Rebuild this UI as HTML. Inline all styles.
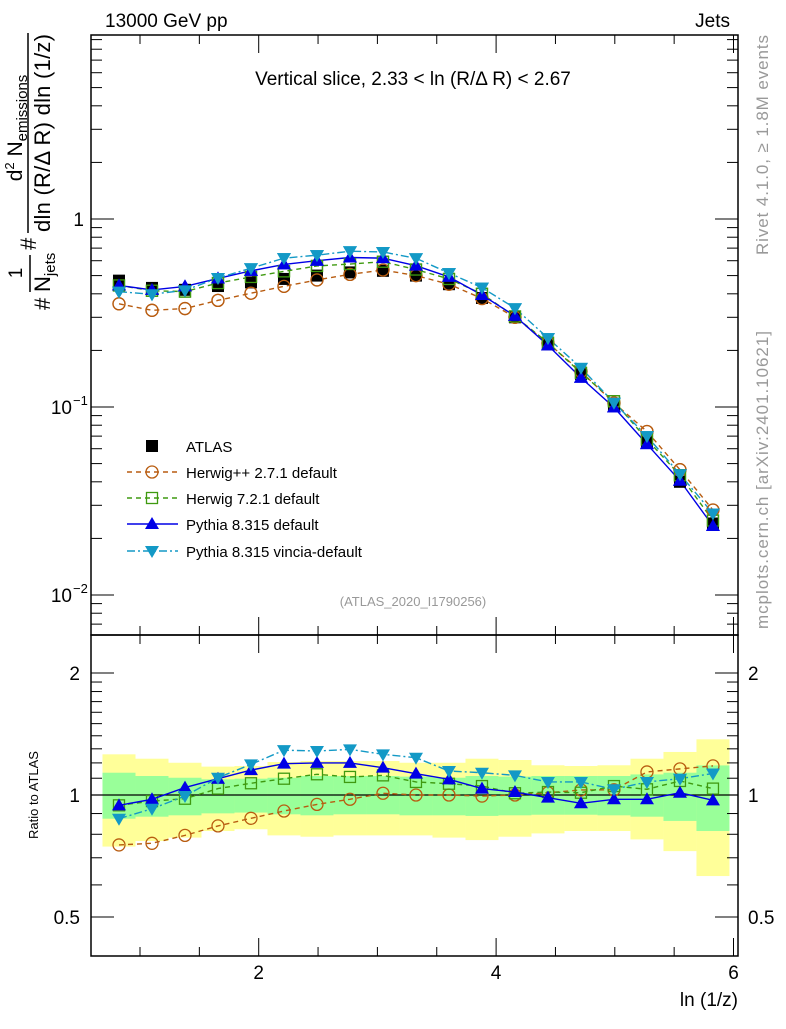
<!DOCTYPE html>
<html><head><meta charset="utf-8"><style>
html,body{margin:0;padding:0;background:#fff;}
svg text{font-family:"Liberation Sans",sans-serif;}
</style></head><body>
<svg id="c" width="786" height="1024" xmlns="http://www.w3.org/2000/svg">
<g id="bands"></g>
<g id="axes"></g>
<g id="series"></g>
<text x="105" y="27" font-size="19">13000 GeV pp</text>
<text x="730" y="27" font-size="19" text-anchor="end">Jets</text>
<text x="413" y="85" font-size="19" text-anchor="middle">Vertical slice, 2.33 &lt; ln (R/Δ R) &lt; 2.67</text>
<text x="413" y="606" font-size="13" fill="#999" text-anchor="middle">(ATLAS_2020_I1790256)</text>
<text transform="translate(768,145) rotate(-90)" font-size="17" fill="#999" text-anchor="middle" textLength="220">Rivet 4.1.0, ≥ 1.8M events</text>
<text transform="translate(768,480) rotate(-90)" font-size="17" fill="#999" text-anchor="middle" textLength="298">mcplots.cern.ch [arXiv:2401.10621]</text>
<g transform="translate(38,160) rotate(-90)">
<text x="-150" y="12" font-size="22">#</text>
<text x="-113" y="-16" font-size="19" text-anchor="middle">1</text>
<line x1="-132" y1="-8" x2="-95" y2="-8" stroke="#000" stroke-width="1.5"/>
<text x="-132" y="12" font-size="22">N<tspan font-size="15" dy="5">jets</tspan></text>
<text x="-90" y="-2" font-size="22">#</text>
<text x="32" y="-16" font-size="21" text-anchor="middle">d<tspan font-size="13" dy="-8">2</tspan><tspan dy="8"> N</tspan><tspan font-size="15" dy="5">emissions</tspan></text>
<line x1="-73" y1="-10" x2="127" y2="-10" stroke="#000" stroke-width="1.5"/>
<text x="27" y="12" font-size="22" text-anchor="middle" textLength="198">dln (R/Δ R) dln (1/z)</text>
</g>
<text transform="translate(38,795) rotate(-90)" font-size="13" text-anchor="middle">Ratio to ATLAS</text>
<text x="738" y="1006" font-size="19" text-anchor="end">ln (1/z)</text>
<g id="legend"></g>
</svg>
<script>
const xCenters=[0.823,1.101,1.379,1.657,1.935,2.213,2.491,2.769,3.047,3.325,3.603,3.881,4.159,4.437,4.715,4.993,5.271,5.549,5.827];
const atlas=[0.47,0.43,0.42,0.44,0.46,0.48,0.50,0.52,0.53,0.50,0.45,0.38,0.30,0.216,0.150,0.102,0.065,0.040,0.024];
const ratioHerwigpp=[0.753,0.76,0.795,0.839,0.876,0.913,0.948,0.976,1.01,1.0,1.0,0.994,1.0,1.013,1.029,1.03,1.14,1.16,1.18];
const ratioHerwig7=[0.943,0.966,0.979,1.037,1.069,1.097,1.125,1.108,1.118,1.077,1.066,1.052,1.01,1.017,1.013,1.052,1.033,1.083,1.037];
const ratioPythia=[0.943,0.976,1.043,1.097,1.152,1.195,1.2,1.2,1.168,1.129,1.093,1.037,1.017,0.985,0.954,0.976,0.976,1.013,0.97];
const ratioVincia=[0.874,0.925,0.994,1.103,1.19,1.29,1.284,1.296,1.26,1.236,1.146,1.135,1.118,1.077,1.077,1.033,1.077,1.097,1.13];
const yellowHi=[1.26,1.229,1.201,1.175,1.179,1.206,1.213,1.213,1.213,1.201,1.201,1.229,1.22,1.184,1.179,1.184,1.229,1.277,1.372];
const yellowLo=[0.746,0.77,0.785,0.815,0.823,0.795,0.789,0.795,0.795,0.795,0.785,0.774,0.789,0.804,0.815,0.815,0.777,0.727,0.631];
const greenHi=[1.135,1.114,1.103,1.093,1.097,1.103,1.114,1.114,1.114,1.11,1.103,1.114,1.11,1.114,1.114,1.114,1.124,1.135,1.183];
const greenLo=[0.874,0.884,0.891,0.901,0.905,0.896,0.891,0.896,0.896,0.891,0.891,0.888,0.891,0.894,0.894,0.891,0.884,0.863,0.815];
const xTicks=[2,4,6];
const binHalf=0.139;

const NS="http://www.w3.org/2000/svg";
const L=91,R=738,T=35,MB=635,RB=956;
const X=v=>258.7+(v-2)*118.7;
const YM=v=>219-Math.log10(v)*188;
const YR=v=>795-Math.log2(v)*122;
function el(tag,attrs,parent){const e=document.createElementNS(NS,tag);for(const k in attrs)e.setAttribute(k,attrs[k]);parent.appendChild(e);return e;}
const axes=document.getElementById('axes'),bands=document.getElementById('bands'),ser=document.getElementById('series'),leg=document.getElementById('legend');

xCenters.forEach((x,i)=>{
  const x0=Math.max(L,X(x-binHalf)),x1=X(x+binHalf);
  const y=el('rect',{x:x0,y:YR(yellowHi[i]),width:x1-x0,height:YR(yellowLo[i])-YR(yellowHi[i]),fill:'#ffff99'},bands);
  
  
  const g=el('rect',{x:x0,y:YR(greenHi[i]),width:x1-x0,height:YR(greenLo[i])-YR(greenHi[i]),fill:'#99ff99'},bands);
  
  
});
el('line',{x1:L,y1:YR(1),x2:R,y2:YR(1),stroke:'#000','stroke-width':1.3},axes);
el('rect',{x:L,y:T,width:R-L,height:MB-T,fill:'none',stroke:'#000','stroke-width':1.5},axes);
el('rect',{x:L,y:MB,width:R-L,height:RB-MB,fill:'none',stroke:'#000','stroke-width':1.5},axes);
for(let v=0.5;v<=6.01;v+=0.5){
  const px=X(v); if(px<L||px>R)continue;
  const maj=Math.abs(v-Math.round(v/2)*2)<0.01;
  const len=maj?18:9;
  [[MB,-1],[T,1],[RB,-1],[MB,1]].forEach(([y0,d])=>el('line',{x1:px,y1:y0,x2:px,y2:y0+d*len,stroke:'#000','stroke-width':1},axes));
}
xTicks.forEach(v=>{const t=el('text',{x:X(v),y:979,'font-size':19,'text-anchor':'middle'},axes);t.textContent=v;

});
for(let d=-3;d<=1;d++)for(let m=1;m<10;m++){
  const v=m*Math.pow(10,d),py=YM(v);if(py<T||py>MB)continue;
  const len=m==1?23:11;
  el('line',{x1:L,y1:py,x2:L+len,y2:py,stroke:'#000','stroke-width':1},axes);
  el('line',{x1:R,y1:py,x2:R-len,y2:py,stroke:'#000','stroke-width':1},axes);
}
[[1,'1'],[0.1,'10'],[0.01,'10']].forEach(([v,s],i)=>{
  const t=el('text',{x:i==0?84:72,y:YM(v)+7,'font-size':19,'text-anchor':'end'},axes);t.textContent=s;
  
  
  if(i>0){const e=el('text',{x:73,y:YM(v)-2,'font-size':13},axes);e.textContent=i==1?'−1':'−2';}
});
const rt=[0.5,0.6,0.7,0.8,0.9,1,1.1,1.2,1.3,1.4,1.5,1.6,1.7,1.8,1.9,2];
rt.forEach(v=>{const py=YR(v);const maj=[0.5,1,2].includes(v);const len=maj?23:11;
  el('line',{x1:L,y1:py,x2:L+len,y2:py,stroke:'#000','stroke-width':1},axes);
  el('line',{x1:R,y1:py,x2:R-len,y2:py,stroke:'#000','stroke-width':1},axes);});
[[2,'2'],[1,'1'],[0.5,'0.5']].forEach(([v,s])=>{
  const a=el('text',{x:80,y:YR(v)+7,'font-size':19,'text-anchor':'end'},axes);a.textContent=s;
  
  
  const b=el('text',{x:748,y:YR(v)+7,'font-size':19},axes);b.textContent=s;
  
  
});

function marker(type,x,y,col,g){
  if(type=='sq')return el('rect',{x:x-6,y:y-6,width:12,height:12,fill:'#000'},g);
  if(type=='circ')return el('circle',{cx:x,cy:y,r:6,fill:'none',stroke:col,'stroke-width':1.3},g);
  if(type=='osq')return el('rect',{x:x-5.5,y:y-5.5,width:11,height:11,fill:'none',stroke:col,'stroke-width':1.3},g);
  if(type=='up')return el('polygon',{points:`${x-7},${y+5} ${x+7},${y+5} ${x},${y-7}`,fill:col},g);
  return el('polygon',{points:`${x-7},${y-5} ${x+7},${y-5} ${x},${y+7}`,fill:col},g);
}
const series=[
  {name:'herwigpp',r:ratioHerwigpp,col:'#b85c10',m:'circ',dash:'5,4',label:'Herwig++ 2.7.1 default'},
  {name:'herwig7',r:ratioHerwig7,col:'#3f9a10',m:'osq',dash:'5,4',label:'Herwig 7.2.1 default'},
  {name:'pythia',r:ratioPythia,col:'#0000e6',m:'up',dash:'',label:'Pythia 8.315 default'},
  {name:'vincia',r:ratioVincia,col:'#1399c6',m:'down',dash:'8,3,2,3',label:'Pythia 8.315 vincia-default'}
];
series.forEach(s=>{
  const g=el('g',{},ser);
  
  
  const pm=xCenters.map((x,i)=>X(x)+','+YM(atlas[i]*s.r[i])).join(' ');
  const pr=xCenters.map((x,i)=>X(x)+','+YR(s.r[i])).join(' ');
  [pm,pr].forEach(p=>el('polyline',{points:p,fill:'none',stroke:s.col,'stroke-width':1.4,'stroke-dasharray':s.dash},g));
  xCenters.forEach((x,i)=>{
    const a=marker(s.m,X(x),YM(atlas[i]*s.r[i]),s.col,g);
    
    
    const b=marker(s.m,X(x),YR(s.r[i]),s.col,g);
    
    
  });
});
const ga=el('g',{},ser);


xCenters.forEach((x,i)=>{const m=marker('sq',X(x),YM(atlas[i]),'#000',ga);
  
  });
series.forEach(s=>xCenters.forEach((x,i)=>{const m=marker(s.m,X(x),YM(atlas[i]*s.r[i]),s.col,ser);
  
  }));
const ly=[446,472,498,524,551];
marker('sq',152,ly[0],'#000',leg);
let t=el('text',{x:186,y:ly[0]+6,'font-size':15},leg);t.textContent='ATLAS';


series.forEach((s,i)=>{const y=ly[i+1];
  el('line',{x1:127,y1:y,x2:178,y2:y,stroke:s.col,'stroke-width':1.4,'stroke-dasharray':s.dash},leg);
  marker(s.m,152,y,s.col,leg);
  const tt=el('text',{x:186,y:y+6,'font-size':15},leg);tt.textContent=s.label;
  
  });
</script>
</body></html>
